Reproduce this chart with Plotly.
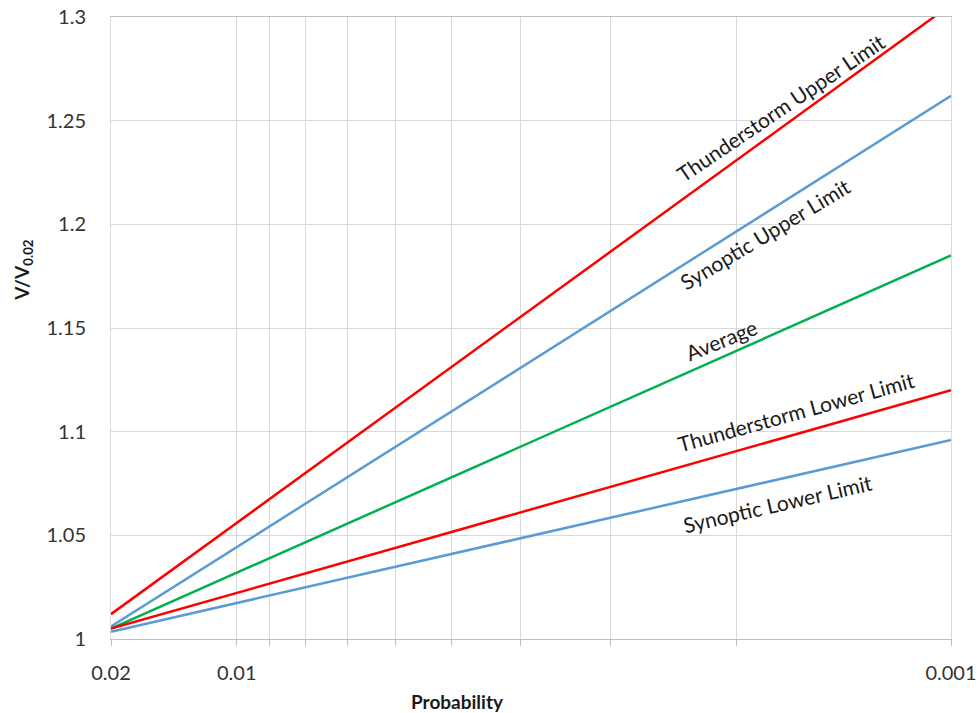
import math
import plotly.graph_objects as go

# ---- data ----
probability = [0.015, 0.001]  # left edge of axis (Excel label "0.02") and right edge
series_names = ["Thunderstorm Upper Limit", "Synoptic Upper Limit", "Average",
                "Thunderstorm Lower Limit", "Synoptic Lower Limit"]
thunderstorm_upper = [1.012, 1.306]
synoptic_upper = [1.006, 1.262]
average = [1.005, 1.185]
thunderstorm_lower = [1.005, 1.120]
synoptic_lower = [1.0035, 1.096]

x_tick_values = [0.015, 0.01, 0.001]
x_tick_labels = ["0.02", "0.01", "0.001"]
x_minor_values = [0.009, 0.008, 0.007, 0.006, 0.005, 0.004, 0.003, 0.002]
y_tick_values = [1, 1.05, 1.1, 1.15, 1.2, 1.25, 1.3]
y_tick_labels = ["1", "1.05", "1.1", "1.15", "1.2", "1.25", "1.3"]

RED = "#ff0000"
BLUE = "#5b9bd5"
GREEN = "#00b050"
GRID = "#d9d9d9"
FONT = "Lato"

series = [
    (series_names[0], thunderstorm_upper, RED),
    (series_names[1], synoptic_upper, BLUE),
    (series_names[2], average, GREEN),
    (series_names[3], thunderstorm_lower, RED),
    (series_names[4], synoptic_lower, BLUE),
]

fig = go.Figure()
for name, vals, col in series:
    fig.add_trace(go.Scatter(x=probability, y=vals, mode="lines", name=name,
                             line=dict(color=col, width=2.5), showlegend=False,
                             cliponaxis=True))

# label placement (paper coords) and angles
label_layout = [
    (series_names[0], 0.797, 0.855, -34),
    (series_names[1], 0.779, 0.652, -31),
    (series_names[2], 0.727, 0.481, -22),
    (series_names[3], 0.816, 0.365, -15.5),
    (series_names[4], 0.793, 0.218, -13),
]
annotations = []
for text, px, py, ang in label_layout:
    annotations.append(dict(text=text, x=px, y=py, xref="paper", yref="paper",
                            showarrow=False, textangle=ang,
                            font=dict(family=FONT, size=21, color="#1a1a1a"),
                            xanchor="center", yanchor="middle"))
annotations.append(dict(text="<b>Probability</b>", x=0.413, y=-0.101,
                        xref="paper", yref="paper", showarrow=False,
                        font=dict(family=FONT, size=19, color="#1a1a1a"),
                        xanchor="center", yanchor="middle"))
annotations.append(dict(text="<b>V/V<sub>0.02</sub></b>", x=-0.104, y=0.593,
                        xref="paper", yref="paper", showarrow=False, textangle=-90,
                        font=dict(family=FONT, size=19, color="#1a1a1a"),
                        xanchor="center", yanchor="middle"))

fig.update_layout(
    width=979, height=713,
    margin=dict(l=111, r=28, t=17, b=74, autoexpand=False),
    paper_bgcolor="white", plot_bgcolor="white",
    annotations=annotations,
    font=dict(family=FONT, size=20, color="#333333"),
)
fig.update_xaxes(
    type="log",
    range=[math.log10(probability[0]), math.log10(probability[1])],
    tickmode="array", tickvals=x_tick_values, ticktext=x_tick_labels,
    showgrid=True, gridcolor=GRID, gridwidth=1,
    showline=True, linecolor="#bfbfbf", linewidth=1, mirror=True,
    ticks="outside", ticklen=6, tickcolor="#bfbfbf",
    ticklabelstandoff=10,
    minor=dict(tickmode="array", tickvals=x_minor_values, showgrid=True,
               gridcolor=GRID, gridwidth=1, ticks="outside", ticklen=6,
               tickcolor="#bfbfbf"),
    tickfont=dict(family=FONT, size=20, color="#333333"),
    zeroline=False, automargin=False,
)
fig.update_yaxes(
    range=[1, 1.3],
    tickmode="array", tickvals=y_tick_values, ticktext=y_tick_labels,
    showgrid=True, gridcolor=GRID, gridwidth=1,
    showline=True, linecolor=GRID, linewidth=1, mirror=True,
    ticks="", ticklabelstandoff=20,
    tickfont=dict(family=FONT, size=20, color="#333333"),
    zeroline=False, automargin=False,
)

fig.write_html("out.html", config={"displayModeBar": False},
               post_script="document.body.style.margin='0';")
